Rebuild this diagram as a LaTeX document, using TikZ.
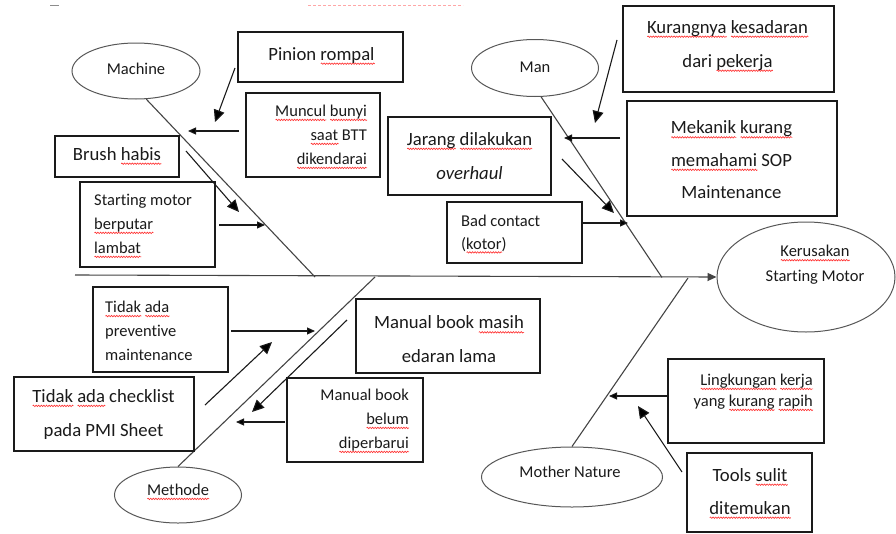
\documentclass[tikz,border=0pt]{standalone}
\usepackage{fontspec}
\setmainfont[Ligatures=NoCommon]{Carlito}
\usetikzlibrary{arrows.meta,shapes.geometric,decorations.pathmorphing}
\newsavebox\rwbox
\newcommand\rw[1]{\sbox\rwbox{#1}\rlap{\tikz[baseline=0pt]{\draw[red!80, line width=0.65pt, decorate, decoration={snake, amplitude=0.7pt, segment length=2.6pt}] (0pt,-3.4pt) -- (\wd\rwbox,-3.4pt);}}\usebox\rwbox}
\definecolor{ink}{HTML}{1A1A1A}
\definecolor{bone}{HTML}{444444}
\tikzset{
  thinbox/.style={draw=ink, line width=1.1pt, inner sep=0pt},
  thickbox/.style={draw=ink, line width=2.4pt, inner sep=0pt},
  oval/.style={ellipse, draw=bone!90, line width=1pt, inner sep=0pt},
  smalltxt/.style={inner sep=0pt, text=ink, font=\fontsize{16.5}{24}\selectfont},
  bigtxt/.style={inner sep=0pt, text=ink, font=\fontsize{18.7}{34}\selectfont},
  boneline/.style={draw=bone, line width=1.1pt},
  bigarrow/.style={draw=ink, line width=1.1pt, -{Triangle[length=12pt,width=11pt]}},
  smallarrow/.style={draw=ink, line width=1.1pt, -{Triangle[length=8pt,width=7pt]}},
}
\begin{document}
\begin{tikzpicture}[x=1pt,y=-1pt]
\useasboundingbox (0,0) rectangle (896,533);
% faint artifacts at the top
\draw[black!45, line width=1.6pt] (50,5.5) -- (59,5.5);
\draw[red!35, line width=1.2pt, dash pattern=on 3pt off 2pt] (308,5.5) -- (463,5.5);

% ellipses
\node[oval, minimum width=128pt, minimum height=56pt] (machine) at (136,71) {};
\node[smalltxt] (tmachine) at (136,69) {Machine};
\node[oval, minimum width=127pt, minimum height=57pt] (man) at (535,68) {};
\node[smalltxt] (tman) at (535,67) {Man};
\node[oval, minimum width=127pt, minimum height=56pt] (methode) at (178,495) {};
\node[smalltxt] (tmethode) at (178,492) {\rw{Methode}};
\node[oval, minimum width=181pt, minimum height=60pt] (nature) at (572,477) {};
\node[smalltxt] (tnature) at (570,472) {Mother Nature};
\node[oval, minimum width=178pt, minimum height=110pt] (effect) at (806,277) {};
\node[smalltxt, align=center, font=\fontsize{16.5}{25}\selectfont] (teffect) at (815,265) {\rw{Kerusakan}\\Starting Motor};

% spine and bones
\coordinate (spinestart) at (75,275);
\draw[boneline, -{Triangle[length=9pt,width=8pt]}] (spinestart) -- (effect.west);
\coordinate (jmachine) at (315,277);
\coordinate (jman) at (662,277.5);
\coordinate (jmethode) at (375,277);
\coordinate (jnature) at (688,278);
\draw[boneline] (machine.290) -- (jmachine);
\draw[boneline] (man.282) -- (jman);
\draw[boneline] (methode.north) -- (jmethode);
\draw[boneline] (nature.north) -- (jnature);

% Machine causes
\node[thickbox, minimum width=165pt, minimum height=50pt] (bpinion) at (320.5,57) {};
\node[bigtxt] (tpinion) at (321.5,56) {Pinion \rw{rompal}};
\node[thinbox, minimum width=134pt, minimum height=84pt] (bmuncul) at (313,135) {};
\node[smalltxt, align=right, anchor=east] (tmuncul) at (367,137) {\rw{Muncul} \rw{bunyi}\\\rw{saat} BTT\\\rw{dikendarai}};
\node[thickbox, minimum width=124pt, minimum height=41pt] (bbrush) at (117,156.5) {};
\node[bigtxt] (tbrush) at (117,156) {Brush \rw{habis}};
\node[thinbox, minimum width=135pt, minimum height=85pt] (bstart) at (147.5,224.5) {};
\node[smalltxt, align=left, anchor=west] (tstart) at (94,226) {Starting motor\\\rw{berputar}\\\rw{lambat}};

\coordinate (a1s) at (235,68);   \coordinate (a1e) at (215,122);
\coordinate (a2s) at (239,131);  \coordinate (a2e) at (188,131);
\coordinate (a3s) at (186,151);  \coordinate (a3e) at (239,212);
\coordinate (a4s) at (219,225);  \coordinate (a4e) at (265,225);
\draw[bigarrow] (a1s) -- (a1e);
\draw[smallarrow] (a2s) -- (a2e);
\draw[bigarrow] (a3s) -- (a3e);
\draw[smallarrow] (a4s) -- (a4e);

% Man causes
\node[thickbox, minimum width=211pt, minimum height=86pt] (bkurang) at (728.5,49) {};
\node[bigtxt, align=center] (tkurang) at (727.5,46) {\rw{Kurangnya} \rw{kesadaran}\\dari \rw{pekerja}};
\node[thickbox, minimum width=210pt, minimum height=115pt] (bmekanik) at (732,158.5) {};
\node[bigtxt, align=center, font=\fontsize{18.7}{32.5}\selectfont] (tmekanik) at (731.5,160) {\rw{Mekanik} \rw{kurang}\\\rw{memahami} SOP\\Maintenance};
\node[thickbox, minimum width=163pt, minimum height=78pt] (bjarang) at (469.5,156) {};
\node[bigtxt, align=center] (tjarang) at (469.5,156) {\rw{Jarang} \rw{dilakukan}\\\textit{overhaul}};
\node[thinbox, minimum width=135pt, minimum height=61pt] (bbad) at (514.5,232.5) {};
\node[smalltxt, align=left, anchor=west, font=\fontsize{16.5}{23}\selectfont] (tbad) at (461,234) {Bad contact\\(\rw{kotor})};

\coordinate (a5s) at (617,40);   \coordinate (a5e) at (595,123);
\coordinate (a6s) at (620,138);  \coordinate (a6e) at (564,138);
\coordinate (a7s) at (562,159);  \coordinate (a7e) at (614,213);
\coordinate (a8s) at (583,223);  \coordinate (a8e) at (628,223);
\draw[bigarrow] (a5s) -- (a5e);
\draw[smallarrow] (a6s) -- (a6e);
\draw[bigarrow] (a7s) -- (a7e);
\draw[smallarrow] (a8s) -- (a8e);

% Methode causes
\node[thinbox, minimum width=135pt, minimum height=85pt] (bprev) at (160.5,329.5) {};
\node[smalltxt, align=left, anchor=west] (tprev) at (105,331) {\rw{Tidak} \rw{ada}\\preventive\\maintenance};
\node[thickbox, minimum width=180pt, minimum height=74pt] (bcheck) at (104,414) {};
\node[bigtxt, align=center] (tcheck) at (103.5,414.5) {\rw{Tidak} \rw{ada} checklist\\pada PMI Sheet};
\node[thickbox, minimum width=184pt, minimum height=74pt] (bmasih) at (448,336) {};
\node[bigtxt, align=center] (tmasih) at (449,339.5) {Manual book \rw{masih}\\edaran lama};
\node[thinbox, minimum width=136pt, minimum height=84pt] (bbelum) at (355,420) {};
\node[smalltxt, align=right, anchor=east] (tbelum) at (409,421) {Manual book\\\rw{belum}\\\rw{diperbarui}};

\coordinate (a9s) at (231,331);   \coordinate (a9e) at (315,331);
\coordinate (a10s) at (205,405);  \coordinate (a10e) at (272,342);
\coordinate (a11s) at (347,320);  \coordinate (a11e) at (252,412);
\coordinate (a12s) at (285,422);  \coordinate (a12e) at (236,422);
\draw[smallarrow] (a9s) -- (a9e);
\draw[bigarrow] (a10s) -- (a10e);
\draw[bigarrow] (a11s) -- (a11e);
\draw[smallarrow] (a12s) -- (a12e);

% Mother Nature causes
\node[thinbox, minimum width=156pt, minimum height=84pt] (bling) at (746,401) {};
\node[smalltxt, align=right, anchor=east, font=\fontsize{16.5}{21}\selectfont] (tling) at (813,392.5) {\rw{Lingkungan} \rw{kerja}\\yang \rw{kurang} \rw{rapih}};
\node[thickbox, minimum width=125pt, minimum height=79pt] (btools) at (749.5,492.5) {};
\node[bigtxt, align=center, font=\fontsize{18.7}{33}\selectfont] (ttools) at (750,493.5) {Tools \rw{sulit}\\\rw{ditemukan}};

\coordinate (a13s) at (668,396);  \coordinate (a13e) at (609,396);
\coordinate (a14s) at (682,472);  \coordinate (a14e) at (638,406);
\draw[smallarrow] (a13s) -- (a13e);
\draw[bigarrow] (a14s) -- (a14e);
\end{tikzpicture}
\end{document}
